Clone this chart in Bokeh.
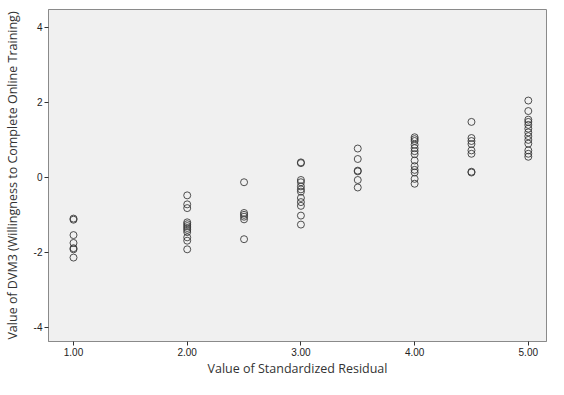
from bokeh.plotting import figure
from bokeh.embed import file_html
from bokeh.resources import INLINE
from bokeh.models import Range1d, FixedTicker, ColumnDataSource

# Values
x_groups = [1.0, 2.0, 2.5, 3.0, 3.5, 4.0, 4.5, 5.0]
y_at_1_0 = [-1.10, -1.13, -1.54, -1.75, -1.89, -1.92, -2.14]
y_at_2_0 = [-0.48, -0.72, -0.82, -1.20, -1.25, -1.30, -1.35, -1.40, -1.46, -1.60, -1.69, -1.92]
y_at_2_5 = [-0.13, -0.95, -1.00, -1.05, -1.12, -1.65]
y_at_3_0 = [0.40, 0.38, -0.07, -0.13, -0.24, -0.32, -0.38, -0.55, -0.66, -0.76, -1.02, -1.26]
y_at_3_5 = [0.77, 0.49, 0.18, 0.16, -0.07, -0.27]
y_at_4_0 = [1.07, 1.02, 0.97, 0.87, 0.78, 0.70, 0.62, 0.45, 0.30, 0.20, 0.13, -0.04, -0.17]
y_at_4_5 = [1.48, 1.05, 0.97, 0.89, 0.72, 0.63, 0.15, 0.13]
y_at_5_0 = [2.05, 1.77, 1.54, 1.48, 1.40, 1.30, 1.20, 1.10, 1.00, 0.90, 0.72, 0.63, 0.55]

y_groups = [y_at_1_0, y_at_2_0, y_at_2_5, y_at_3_0, y_at_3_5, y_at_4_0, y_at_4_5, y_at_5_0]

x_ticks = [1, 2, 3, 4, 5]
x_tick_labels = ["1.00", "2.00", "3.00", "4.00", "5.00"]
y_ticks = [-4, -2, 0, 2, 4]
y_tick_labels = ["-4", "-2", "0", "2", "4"]

x_title = "Value of Standardized Residual"
y_title = "Value of DVM3 (Willingness to Complete Online Training)"

xs, ys = [], []
for gx, gy in zip(x_groups, y_groups):
    for v in gy:
        xs.append(gx)
        ys.append(v)
src = ColumnDataSource(dict(x=xs, y=ys))

p = figure(width=548, height=379, output_backend="svg", toolbar_location=None,
           x_range=Range1d(0.78, 5.16), y_range=Range1d(-4.38, 4.48),
           min_border_left=47, min_border_right=2, min_border_top=9, min_border_bottom=33)

p.background_fill_color = "#f0f0f0"
p.border_fill_color = "white"
p.outline_line_color = "#8a8a8a"
p.outline_line_width = 1
p.grid.visible = False

p.scatter("x", "y", source=src, marker="circle", size=7, fill_color=None,
          line_color="#333333", line_alpha=0.85, line_width=1)

p.xaxis.ticker = FixedTicker(ticks=x_ticks)
p.xaxis.major_label_overrides = dict(zip(x_ticks, x_tick_labels))
p.yaxis.ticker = FixedTicker(ticks=y_ticks)
p.yaxis.major_label_overrides = dict(zip(y_ticks, y_tick_labels))

for ax in (p.xaxis[0], p.yaxis[0]):
    ax.axis_line_color = "#8a8a8a"
    ax.major_tick_line_color = "#333333"
    ax.major_tick_in = 0
    ax.major_tick_out = 4
    ax.minor_tick_line_color = None
    ax.major_label_text_font = "Liberation Sans"
    ax.major_label_text_font_size = "10px"
    ax.major_label_text_color = "#222222"
    ax.major_label_standoff = 2
    ax.axis_label_text_font = "Open Sans"
    ax.axis_label_text_font_size = "12.5px"
    ax.axis_label_text_font_style = "normal"
    ax.axis_label_text_color = "#333333"
    ax.axis_label_standoff = 1

p.xaxis.axis_label = x_title
p.yaxis.axis_label = y_title
p.yaxis.axis_label_standoff = 10

open("out.html", "w").write(file_html(p, INLINE))
